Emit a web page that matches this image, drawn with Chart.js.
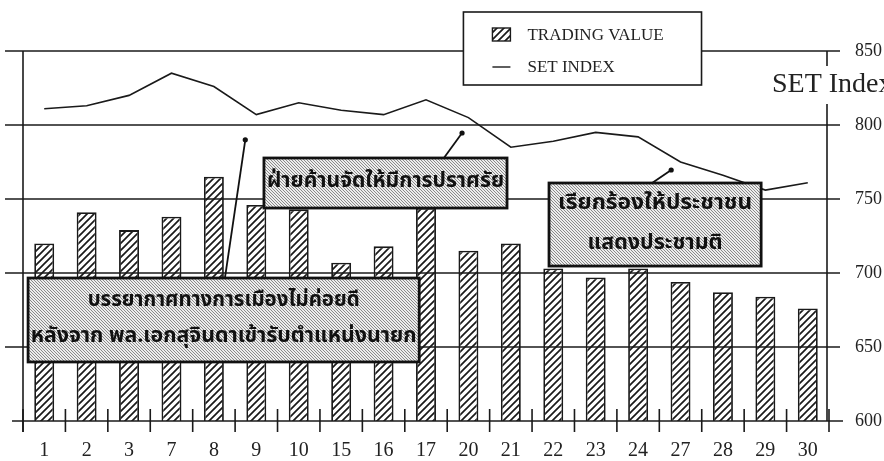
<!DOCTYPE html>
<html><head><meta charset="utf-8">
<script src="https://cdn.jsdelivr.net/npm/chart.js@4.4.0/dist/chart.umd.min.js"></script>
<style>html,body{margin:0;padding:0;background:#fff;}#wrap{position:relative;width:884px;height:461px;}</style>
</head><body><div id="wrap"><canvas id="c" width="884" height="461"></canvas></div>
<script>
// ---- data ----
const categories = ['1','2','3','7','8','9','10','15','16','17','20','21','22','23','24','27','28','29','30'];
const tradingValue = [720,741,729,738,765,746,743,707,718,744,715,720,703,697,703,694,687,684,676];
const setIndex = [811,813,820,835,826,807,815,810,807,817,805,785,789,795,792,775,766,756,761];
const yTicks = [600,650,700,750,800,850];
const legendLabels = ['TRADING VALUE','SET INDEX'];
const axisTitle = 'SET Index';
const note1 = ['ฝ่ายค้านจัดให้มีการปราศรัย'];
const note2 = ['บรรยากาศทางการเมืองไม่ค่อยดี','หลังจาก พล.เอกสุจินดาเข้ารับตำแหน่งนายก'];
const note3 = ['เรียกร้องให้ประชาชน','แสดงประชามติ'];

// ---- patterns ----
function makeHatch(){
  const s=7, c=document.createElement('canvas'); c.width=s; c.height=s;
  const g=c.getContext('2d'); g.fillStyle='#fff'; g.fillRect(0,0,s,s);
  g.strokeStyle='#1a1a1a'; g.lineWidth=1.7;
  g.beginPath();
  for(const o of [-s,0,s]){ g.moveTo(o-1,s+1); g.lineTo(o+s+1,-1); }
  g.stroke();
  return g.createPattern(c,'repeat');
}
function makeSpeckle(){
  const s=3, c=document.createElement('canvas'); c.width=s; c.height=s;
  const g=c.getContext('2d'); g.fillStyle='#ededed'; g.fillRect(0,0,s,s);
  g.fillStyle='#8a8a8a'; for(let i=0;i<s;i++) g.fillRect(i,i,1,1);
  return g.createPattern(c,'repeat');
}
const ctx0=document.getElementById('c').getContext('2d');
const hatch=makeHatch(), speckle=makeSpeckle();
const INK='#1a1a1a';
const SERIF='"Liberation Serif","DejaVu Serif",serif';
const THAI='"Noto Sans Thai","Loma","Garuda","Tlwg Typo","Norasi","DejaVu Sans",sans-serif';

function ln(ctx,x1,y1,x2,y2){ctx.beginPath();ctx.moveTo(x1,y1);ctx.lineTo(x2,y2);ctx.stroke();}
function fitText(ctx,text,cx,cy,w,size){
  ctx.font='bold '+size+'px '+THAI;
  const m=ctx.measureText(text).width;
  const k=w/m;
  ctx.save(); ctx.translate(cx,cy); ctx.scale(k,1);
  ctx.textAlign='center'; ctx.textBaseline='middle'; ctx.fillStyle='#111';
  ctx.fillText(text,0,0); ctx.restore();
}

const paper={
  id:'paper',
  afterDatasetsDraw(chart){
    const {ctx,chartArea:a,scales:{x,y}}=chart;
    const n=categories.length, cw=a.width/n;
    const px=i=>x.getPixelForValue(i);
    ctx.save(); ctx.strokeStyle=INK; ctx.lineWidth=1.6;
    // grid + axes
    yTicks.forEach(v=>{ if(v===yTicks[0]) return; const py=y.getPixelForValue(v); ln(ctx,a.left-18,py,a.right+11,py); });
    ln(ctx,a.left,a.top,a.left,a.bottom+11);
    ln(ctx,a.right-2,a.top,a.right-2,a.bottom);
    ln(ctx,a.left-11,a.bottom,a.right+14,a.bottom);
    for(let i=0;i<=n;i++){const tx=a.left+i*cw; ln(ctx,tx,a.bottom-12,tx,a.bottom+11);}
    ctx.fillStyle='#222'; ctx.font='20px '+SERIF; ctx.textAlign='center'; ctx.textBaseline='middle';
    categories.forEach((c,i)=>ctx.fillText(c,px(i),a.bottom+30));
    // y labels
    ctx.textAlign='left'; ctx.font='18px '+SERIF;
    yTicks.forEach(v=>ctx.fillText(String(v),a.right+26,y.getPixelForValue(v)));
    // axis title with white backing
    ctx.fillStyle='#fff'; ctx.fillRect(a.right-70,a.top+15,130,38);
    ctx.fillStyle='#222'; ctx.font='28px '+SERIF; ctx.textBaseline='alphabetic';
    ctx.fillText(axisTitle,a.right-57,a.top+41);
    // legend
    const lx=px(10)-5, rx=px(15)+21, ty=a.top-39, by=a.top+34;
    ctx.fillStyle='#fff'; ctx.fillRect(lx,ty,rx-lx,by-ty); ctx.strokeRect(lx,ty,rx-lx,by-ty);
    ctx.fillStyle=hatch; ctx.fillRect(lx+29,ty+16,18,13); ctx.lineWidth=1.4; ctx.strokeRect(lx+29,ty+16,18,13);
    ln(ctx,lx+29,ty+55,lx+47,ty+55);
    ctx.fillStyle='#222'; ctx.font='17px '+SERIF; ctx.textBaseline='middle';
    ctx.fillText(legendLabels[0],lx+64,ty+24);
    ctx.fillText(legendLabels[1],lx+64,ty+56);
    // annotation boxes
    const box=(i1,i2,v1,v2)=>{
      const x1=a.left+(i1+0.5)*cw, x2=a.left+(i2+0.5)*cw, y1=y.getPixelForValue(v1), y2=y.getPixelForValue(v2);
      ctx.fillStyle=speckle; ctx.fillRect(x1,y1,x2-x1,y2-y1);
      ctx.lineWidth=2.8; ctx.strokeStyle='#111'; ctx.strokeRect(x1,y1,x2-x1,y2-y1);
      return {x1,x2,y1,y2};
    };
    const pointer=(i1,v1,i2,v2)=>{
      const X1=a.left+(i1+0.5)*cw, Y1=y.getPixelForValue(v1), X2=a.left+(i2+0.5)*cw, Y2=y.getPixelForValue(v2);
      ctx.lineWidth=1.8; ctx.strokeStyle='#111'; ln(ctx,X1,Y1,X2,Y2);
      ctx.fillStyle='#111'; ctx.beginPath(); ctx.arc(X2,Y2,2.6,0,Math.PI*2); ctx.fill();
    };
    pointer(4.26,696.6,4.74,790);
    pointer(9.43,778,9.85,794.6);
    pointer(14.33,760.8,14.78,769.6);
    const b1=box(5.18,10.91,777.7,743.9);
    fitText(ctx,note1[0],(b1.x1+b1.x2)/2,(b1.y1+b1.y2)/2,b1.x2-b1.x1-6,22);
    const b2=box(-0.38,8.84,696.6,639.9);
    fitText(ctx,note2[0],(b2.x1+b2.x2)/2,b2.y1+24,272,21);
    fitText(ctx,note2[1],(b2.x1+b2.x2)/2,b2.y1+60,386,21);
    const b3=box(11.9,16.9,760.8,704.7);
    fitText(ctx,note3[0],(b3.x1+b3.x2)/2,b3.y1+22,194,22);
    fitText(ctx,note3[1],(b3.x1+b3.x2)/2,b3.y1+62,135,22);
    ctx.restore();
  }
};

new Chart(ctx0,{
  data:{labels:categories,datasets:[
    {type:'line',label:legendLabels[1],data:setIndex,yAxisID:'y',borderColor:INK,borderWidth:1.6,pointRadius:0,tension:0,fill:false,order:0},
    {type:'bar',label:legendLabels[0],data:tradingValue,yAxisID:'yL',backgroundColor:hatch,borderColor:INK,borderWidth:1.8,borderSkipped:false,barPercentage:0.47,categoryPercentage:1,order:1}
  ]},
  options:{
    responsive:false,animation:false,events:[],
    layout:{padding:{left:23,right:55,top:51,bottom:40}},
    plugins:{legend:{display:false},tooltip:{enabled:false}},
    scales:{
      x:{display:false,offset:true},
      y:{display:false,position:'right',min:600,max:850},
      yL:{display:false,position:'left',min:600,max:850}
    }
  },
  plugins:[paper]
});
</script></body></html>
